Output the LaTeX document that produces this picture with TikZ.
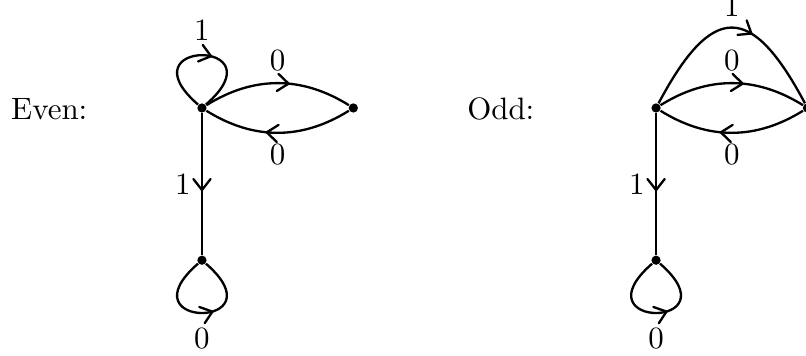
\documentclass[tikz,border=0pt]{standalone}
\usepackage{tikz}
\usetikzlibrary{arrows.meta,positioning,decorations.markings}
\tikzset{
  state/.style={circle,fill,inner sep=0pt,minimum size=1.05mm},
  edge/.style={line width=0.75pt},
  midarrow/.style={postaction={decorate},decoration={markings,
    mark=at position #1 with {\arrow{Straight Barb[length=1.25mm,width=1.95mm,round]}}}},
  midarrow/.default=0.58
}

\begin{document}
\begin{tikzpicture}[node distance=1.72cm,on grid]
  \useasboundingbox (0,0) rectangle (9.159,4.045);
  % even automaton
  \node[state] (e0) at (2.295,2.818) {};
  \node[state,right=1.72cm of e0] (e1) {};
  \node[state,below=1.73cm of e0] (e2) {};
  \node[anchor=base east] (evenlbl) at (1.116,2.682) {Even:};
  \draw[edge,midarrow] (e0) to[bend left=32] node[above] {0} (e1);
  \draw[edge,midarrow] (e1) to[bend left=32] node[below] {0} (e0);
  \draw[edge,midarrow=0.55] (e0) -- node[left] {1} (e2);
  \draw[edge,midarrow=0.57] (e0) .. controls +(139:1.2) and +(41:1.2) .. node[above=1pt] {1} (e0);
  \draw[edge,midarrow=0.58] (e2) .. controls +(-139:1.2) and +(-41:1.2) .. node[below=1pt] {0} (e2);
  % odd automaton
  \node[state] (o0) at (7.455,2.818) {};
  \node[state,right=1.72cm of o0] (o1) {};
  \node[state,below=1.73cm of o0] (o2) {};
  \node[anchor=base east] (oddlbl) at (6.196,2.682) {Odd:};
  \draw[edge,midarrow] (o0) to[bend left=32] node[above] {0} (o1);
  \draw[edge,midarrow] (o1) to[bend left=32] node[below] {0} (o0);
  \draw[edge,midarrow=0.6] (o0) .. controls +(62:1.36) and +(118:1.36) .. node[above] {1} (o1);
  \draw[edge,midarrow=0.55] (o0) -- node[left] {1} (o2);
  \draw[edge,midarrow=0.58] (o2) .. controls +(-139:1.2) and +(-41:1.2) .. node[below=1pt] {0} (o2);
\end{tikzpicture}
\end{document}
